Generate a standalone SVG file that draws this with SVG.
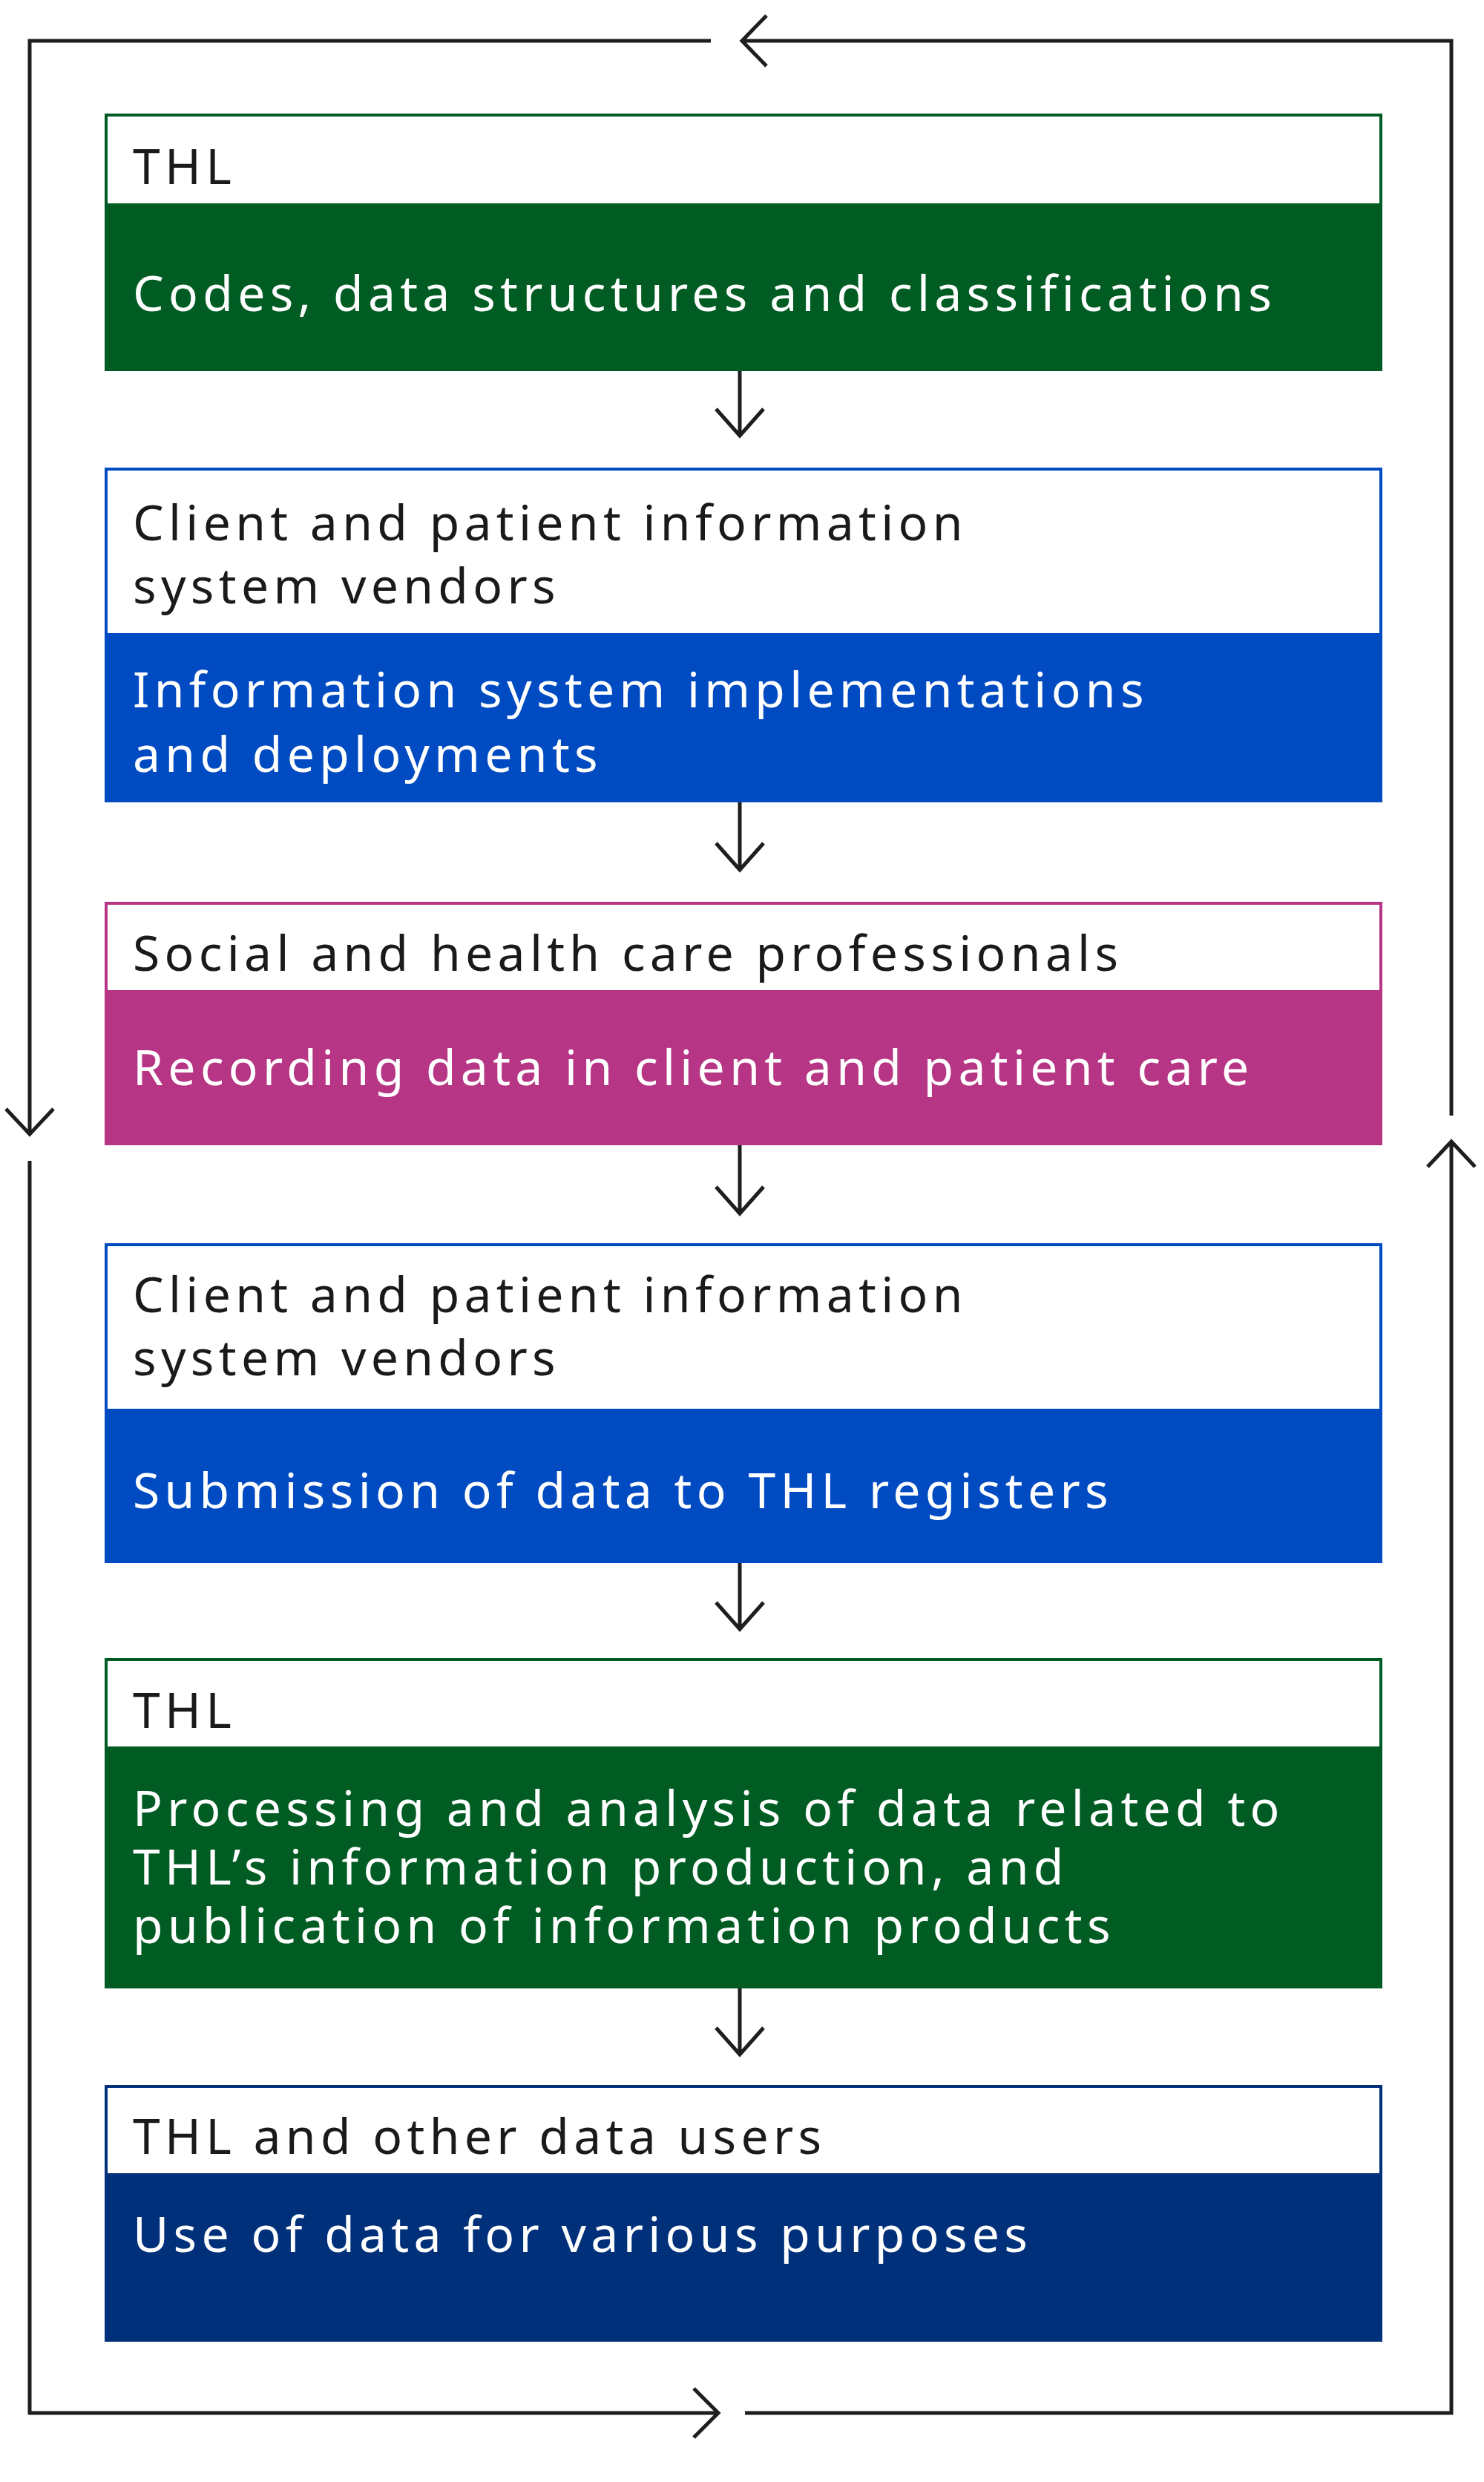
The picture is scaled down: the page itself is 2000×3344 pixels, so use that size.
<svg xmlns="http://www.w3.org/2000/svg" width="2000" height="3344" viewBox="0 0 2000 3344">
<style>
.h{font-family:"Noto Sans","Open Sans",sans-serif;font-size:66px;fill:#1a1a1a;letter-spacing:6.3px}
.b{font-family:"Noto Sans","Open Sans",sans-serif;font-size:66px;fill:#ffffff;letter-spacing:6.3px}
.ln{fill:none;stroke:#1e1e1e;stroke-width:5}
</style>
<rect width="2000" height="3344" fill="#ffffff"/>
<g id="n1">
<rect x="141" y="153" width="1722" height="347" fill="#005c23"/>
<rect x="145" y="157" width="1714" height="117" fill="#fff"/>
<text class="h" x="179" y="248">THL</text>
<text class="b" x="179" y="419">Codes, data structures and classifications</text>
</g>
<g id="n2">
<rect x="141" y="630" width="1722" height="451" fill="#004bc2"/>
<rect x="145" y="634" width="1714" height="219" fill="#fff"/>
<text class="h" x="179" y="728">Client and patient information</text>
<text class="h" x="179" y="813">system vendors</text>
<text class="b" x="179" y="953">Information system implementations</text>
<text class="b" x="179" y="1040">and deployments</text>
</g>
<g id="n3">
<rect x="141" y="1215" width="1722" height="328" fill="#b63685"/>
<rect x="145" y="1219" width="1714" height="115" fill="#fff"/>
<text class="h" x="179" y="1308">Social and health care professionals</text>
<text class="b" x="179" y="1462">Recording data in client and patient care</text>
</g>
<g id="n4">
<rect x="141" y="1675" width="1722" height="431" fill="#004bc2"/>
<rect x="145" y="1679" width="1714" height="219" fill="#fff"/>
<text class="h" x="179" y="1768">Client and patient information</text>
<text class="h" x="179" y="1853">system vendors</text>
<text class="b" x="179" y="2032">Submission of data to THL registers</text>
</g>
<g id="n5">
<rect x="141" y="2234" width="1722" height="445" fill="#005c23"/>
<rect x="145" y="2238" width="1714" height="115" fill="#fff"/>
<text class="h" x="179" y="2328">THL</text>
<text class="b" x="179" y="2460">Processing and analysis of data related to</text>
<text class="b" x="179" y="2539">THL’s information production, and</text>
<text class="b" x="179" y="2618">publication of information products</text>
</g>
<g id="n6">
<rect x="141" y="2809" width="1722" height="346" fill="#00307a"/>
<rect x="145" y="2813" width="1714" height="115" fill="#fff"/>
<text class="h" x="179" y="2902">THL and other data users</text>
<text class="b" x="179" y="3034">Use of data for various purposes</text>
</g>
<g id="connectors" class="ln">
<path d="M997 500V587M965 551L997 587L1029 551"/>
<path d="M997 1081V1172M965 1136L997 1172L1029 1136"/>
<path d="M997 1543V1635M965 1599L997 1635L1029 1599"/>
<path d="M997 2106V2195M965 2159L997 2195L1029 2159"/>
<path d="M997 2679V2768M965 2732L997 2768L1029 2732"/>
<path d="M958 55H40V1528M8 1494L40 1528L72 1494"/>
<path d="M40 1564V3251H968M935 3218L968 3251L935 3284"/>
<path d="M1004 3251H1956V1538M1924 1572L1956 1538L1988 1572"/>
<path d="M1956 1503V55H1000M1033 21L1000 55L1033 89"/>
</g>
</svg>
